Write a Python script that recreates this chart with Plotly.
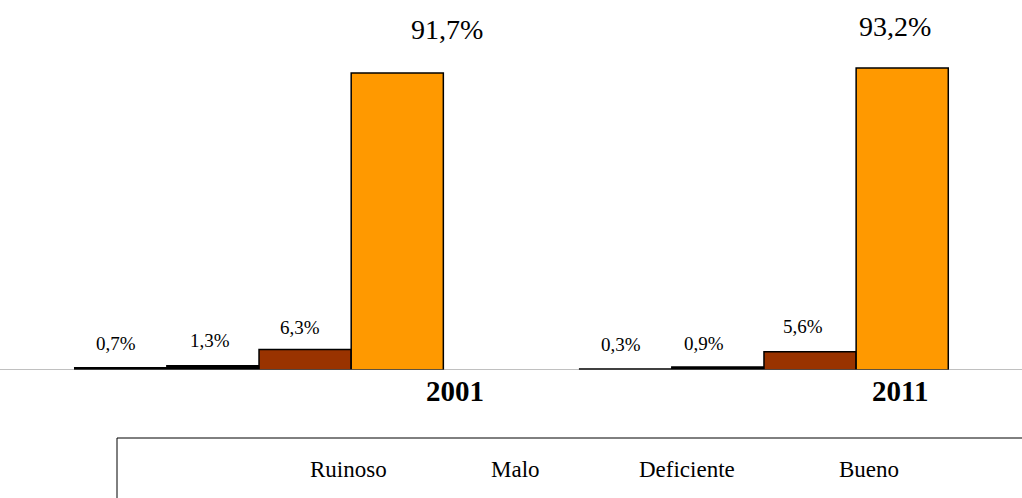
import plotly.graph_objects as go

# Housing condition shares by census year
years = ["2001", "2011"]
categories = ["Ruinoso", "Malo", "Deficiente", "Bueno"]
ruinoso = [0.7, 0.3]
malo = [1.3, 0.9]
deficiente = [6.3, 5.6]
bueno = [91.7, 93.2]
value_labels = [["0,7%", "1,3%", "6,3%", "91,7%"],
                ["0,3%", "0,9%", "5,6%", "93,2%"]]

series = [ruinoso, malo, deficiente, bueno]
colors = ["#000000", "#000000", "#993300", "#FF9900"]

SERIF = "Liberation Serif, Times New Roman, serif"
W, H = 1022, 498
BOTTOM = 128
PLOT_H = H - BOTTOM
BAR_GAP = 0.27

fig = go.Figure()
for name, vals, col in zip(categories, series, colors):
    fig.add_trace(go.Bar(
        x=[0, 1], y=vals, name=name,
        marker=dict(color=col, line=dict(color="#000000", width=1.5)),
        showlegend=False,
    ))

# label placement tweaks (pixels) relative to each bar
label_dx = [[-5, -3, -5, 50], [-5, -14, -7, -7]]
label_dy = [[12, 13, 10, 26], [12, 11, 13, 24]]
label_size = [[19, 19, 19, 28], [19, 19, 19, 28]]

n = len(categories)
bar_w = (1 - BAR_GAP) / n
annotations = []
for gi in range(len(years)):
    for si in range(n):
        xc = gi - (1 - BAR_GAP) / 2 + bar_w * (si + 0.5)
        annotations.append(dict(
            x=xc, y=series[si][gi], xref="x", yref="y",
            text=value_labels[gi][si], showarrow=False,
            yanchor="bottom", xanchor="center",
            xshift=label_dx[gi][si], yshift=label_dy[gi][si],
            font=dict(family=SERIF, size=label_size[gi][si], color="#000000"),
        ))

# year labels under each group
year_dx = [196, 136]
for gi, yr in enumerate(years):
    annotations.append(dict(
        x=gi, y=0, xref="x", yref="y", text="<b>%s</b>" % yr,
        showarrow=False, yanchor="top", xanchor="center",
        xshift=year_dx[gi], yshift=-3,
        font=dict(family=SERIF, size=29, color="#000000"),
    ))


def py(pix):
    """Convert a pixel row of the figure to a paper y coordinate."""
    return (PLOT_H - pix) / PLOT_H


# legend entries as plain text inside an open box
legend_x = [348, 515, 687, 869]
for name, lx in zip(categories, legend_x):
    annotations.append(dict(
        x=lx / W, y=py(469), xref="paper", yref="paper", text=name,
        showarrow=False, xanchor="center", yanchor="middle",
        font=dict(family=SERIF, size=23, color="#000000"),
    ))

fig.update_layout(
    width=W, height=H,
    margin=dict(l=0, r=0, t=0, b=BOTTOM),
    paper_bgcolor="white", plot_bgcolor="white",
    barmode="group", bargap=BAR_GAP, bargroupgap=0,
    xaxis=dict(range=[-0.513, 1.511], showticklabels=False, showgrid=False,
               zeroline=False, showline=False, ticks=""),
    yaxis=dict(range=[0, 114.2], visible=False),
    annotations=annotations,
    shapes=[
        dict(type="line", xref="paper", yref="y", x0=0, x1=1, y0=0, y1=0,
             line=dict(color="#808080", width=1)),
        dict(type="rect", xref="paper", yref="paper",
             x0=117 / W, x1=1.01, y0=py(520), y1=py(438),
             line=dict(color="#000000", width=1), fillcolor="rgba(0,0,0,0)"),
    ],
)

fig.write_html("out.html")
